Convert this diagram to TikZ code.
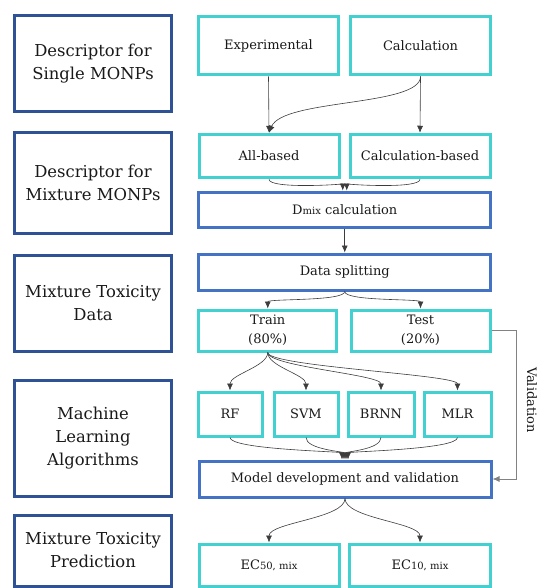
\documentclass[tikz,border=0pt]{standalone}
\usepackage{fontspec}
\setmainfont{DejaVu Serif}
\usepackage{xcolor}
\usepackage{tikz}
\usetikzlibrary{arrows.meta, positioning}
\definecolor{stagecol}{RGB}{47,82,150}
\definecolor{stepcol}{RGB}{66,208,208}
\definecolor{proccol}{RGB}{68,114,196}
\definecolor{arrcol}{RGB}{60,60,60}
\definecolor{validcol}{RGB}{130,130,130}

\begin{document}
\begin{tikzpicture}[x=1pt, y=-1pt,
	stage/.style={draw=stagecol, line width=3pt, minimum width=157pt, inner sep=0pt, align=center, text=black!90, font=\fontsize{16.4}{23}\selectfont},
	item/.style={draw=stepcol, line width=3pt, inner sep=0pt, align=center, text=black!90, font=\fontsize{13}{19}\selectfont},
	proc/.style={draw=proccol, line width=3pt, inner sep=0pt, align=center, minimum width=292pt, minimum height=36pt, text=black!90, font=\fontsize{13}{19}\selectfont},
	flow/.style={draw=arrcol, line width=0.6pt, -{Latex[length=7pt,width=6pt]}},
	valid/.style={draw=validcol, line width=0.8pt, -{Latex[length=7pt,width=6pt]}}
	]
	\useasboundingbox (0,0) rectangle (539,588);
	% stages on the left
	\node[stage, minimum height=96pt] (single) at (93,63.5) {Descriptor for\\Single MONPs};
	\node[stage, minimum height=100pt] (mixture) at (93,183) {Descriptor for\\Mixture MONPs};
	\node[stage, minimum height=96pt] (toxdata) at (93,303) {Mixture Toxicity\\Data};
	\node[stage, minimum height=116pt] (mlalg) at (93,438) {Machine\\Learning\\Algorithms};
	\node[stage, minimum height=71pt] (toxpred) at (93,550.5) {Mixture Toxicity\\Prediction};
	% descriptors
	\node[item, minimum width=140pt, minimum height=58.5pt] (exper) at (268.5,45.75) {Experimental};
	\node[item, minimum width=140pt, minimum height=58.5pt] (calc) at (420.5,45.75) {Calculation};
	\node[item, minimum width=140pt, minimum height=43.5pt] (allb) at (269,156) {All-based};
	\node[item, minimum width=140pt, minimum height=43.5pt] (calcb) at (420,156) {Calculation-based};
	\node[proc, minimum height=35pt] (dmix) at (344.75,209.5) {D{\fontsize{10}{12}\selectfont mix} calculation};
	% data
	\node[proc] (split) at (344.75,272) {Data splitting};
	\node[item, minimum width=138pt, minimum height=41pt] (train) at (267.75,330.5) {Train\\(80\%)};
	\node[item, minimum width=139pt, minimum height=41pt] (test) at (420.5,330.5) {Test\\(20\%)};
	% algorithms
	\node[item, minimum width=64pt, minimum height=44pt] (rf) at (230,414) {RF};
	\node[item, minimum width=64pt, minimum height=44pt] (svm) at (306,414) {SVM};
	\node[item, minimum width=66pt, minimum height=44pt] (brnn) at (381,414) {BRNN};
	\node[item, minimum width=67pt, minimum height=44pt] (mlr) at (457.5,414) {MLR};
	\node[proc] (model) at (345,479) {Model development and validation};
	% prediction
	\node[item, minimum width=140pt, minimum height=42pt] (ecfifty) at (269,565) {EC{\fontsize{10}{12}\selectfont 50, mix}};
	\node[item, minimum width=141pt, minimum height=42pt] (ecten) at (420,565) {EC{\fontsize{10}{12}\selectfont 10, mix}};
	\node[rotate=-90, text=black!90, font=\fontsize{13}{16}\selectfont] (validlab) at (532,400) {Validation};

	\draw[flow] (exper.south) -- (allb.north);
	\draw[flow] (calc.south) -- (calcb.north);
	\draw[flow] (calc.south) .. controls +(0,30) and +(14,-34) .. (allb.north);
	\draw[flow] (allb.south) .. controls +(0,10) and +(0,-6) .. ([xshift=-2pt]dmix.north);
	\draw[flow] (calcb.south) .. controls +(0,10) and +(0,-6) .. ([xshift=2pt]dmix.north);
	\draw[flow] (dmix.south) -- (split.north);
	\draw[flow] (split.south) .. controls +(0,10) and +(0,-10) .. (train.north);
	\draw[flow] (split.south) .. controls +(0,10) and +(0,-10) .. (test.north);
	\foreach \alg in {rf, svm, brnn, mlr}
		\draw[flow] (train.south) .. controls +(0,14) and +(0,-16) .. (\alg.north);
	\draw[flow] (rf.south) .. controls +(0,12) and +(0,-8) .. ([xshift=-3pt]model.north);
	\draw[flow] (svm.south) .. controls +(0,12) and +(0,-8) .. ([xshift=-1pt]model.north);
	\draw[flow] (brnn.south) .. controls +(0,12) and +(0,-8) .. ([xshift=1pt]model.north);
	\draw[flow] (mlr.south) .. controls +(0,12) and +(0,-8) .. ([xshift=3pt]model.north);
	\draw[flow] (model.south) .. controls +(0,20) and +(0,-20) .. (ecfifty.north);
	\draw[flow] (model.south) .. controls +(0,20) and +(0,-20) .. (ecten.north);
	\draw[valid] (test.east) -- ++(25,0) |- (model.east);
\end{tikzpicture}
\end{document}
